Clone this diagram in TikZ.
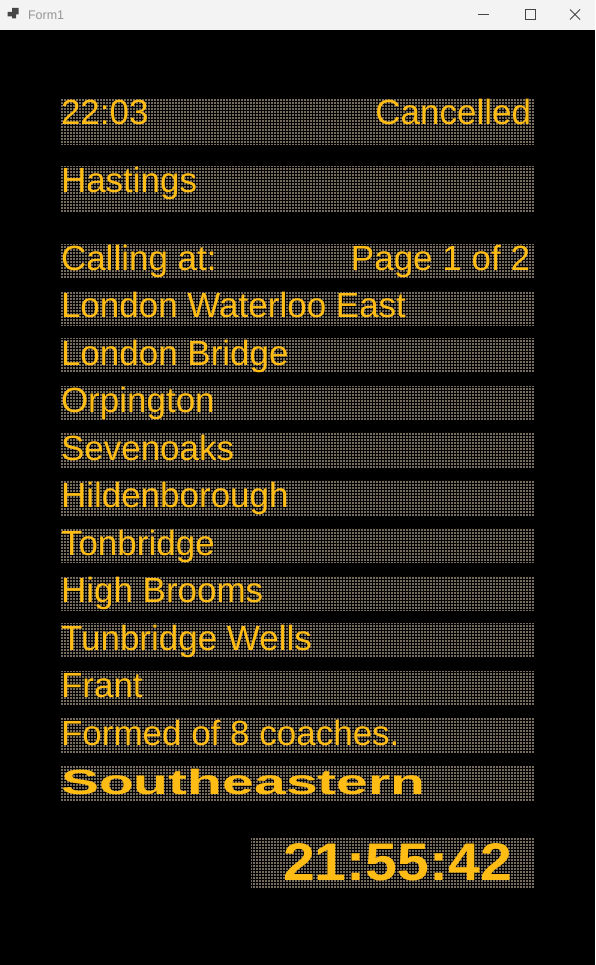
\documentclass[tikz,border=0pt]{standalone}
\usepackage{fontspec}
\setmainfont{Liberation Sans}
\newfontfamily\widefont{Liberation Sans}[FakeStretch=1.63]
\newfontfamily\clockfont{Liberation Sans}[FakeStretch=1.08]
\definecolor{amber}{RGB}{255,188,20}
\definecolor{dotgrey}{RGB}{118,108,94}
\definecolor{barbg}{RGB}{243,243,243}
\definecolor{bartext}{RGB}{150,150,150}
\definecolor{barsym}{RGB}{70,70,70}

\begin{document}
\begin{tikzpicture}[x=1pt,y=-1pt,inner sep=0pt,outer sep=0pt,board/.style={text=amber,font=\fontsize{35}{35}\selectfont}]
\tikzstyle{panel} = [fill=dotgrey, anchor=north west, minimum height=35pt, minimum width=474pt]
\tikzstyle{dotgrid} = [draw=black, line width=1pt, step=3pt]
\tikzstyle{barline} = [draw=barsym, line width=0.8pt]

\useasboundingbox (0,0) rectangle (595,965);
\fill[black] (0,30) rectangle (595,965);
\fill[barbg] (0,0) rectangle (595,30);

% title bar
\fill[barsym] (12,8) rectangle (18.5,14.5) (7.5,12) rectangle (12,16.5) (12,14.5) rectangle (16,18.5);
\node[anchor=west, text=bartext, font=\fontsize{12.5}{12.5}\selectfont] (title) at (28,15) {Form1};
\draw[barline] (478,14.5) -- (489,14.5);
\draw[barline] (525,9.5) rectangle (535,19.5);
\draw[barline] (570,9.5) -- (580,19.5) (570,19.5) -- (580,9.5);

% panels
\node[panel, minimum height=47pt] (dep) at (61,98) {};
\node[panel, minimum height=47pt] (dest) at (61,165) {};
\foreach \i in {0,...,11}
    \node[panel] (row\i) at (61,243+47.5*\i) {};
\node[panel, minimum width=284pt, minimum height=50pt] (clk) at (251,838) {};

\foreach \p in {dep,dest,row0,row1,row2,row3,row4,row5,row6,row7,row8,row9,row10,row11,clk}
    \draw[dotgrid] (\p.north west) grid (\p.south east);

% texts
\node[board, anchor=base west] (deptime) at (61,125) {22:03};
\node[board, anchor=base east] (status) at (531,125) {Cancelled};
\node[board, anchor=base west] (destname) at (61,193) {Hastings};
\node[board, anchor=base west] (calling) at (61,270) {Calling at:};
\node[board, anchor=base east] (page) at (530,270) {Page 1 of 2};

\foreach \s [count=\i] in {London Waterloo East,London Bridge,Orpington,Sevenoaks,Hildenborough,Tonbridge,High Brooms,Tunbridge Wells,Frant}
    \node[board, anchor=base west] (stop\i) at (61,270+47.5*\i) {\s};

\node[board, anchor=base west] (formed) at (61,745) {Formed of 8 coaches.};
\node[board, anchor=base west] (toc) at (61,794) {\widefont\bfseries Southeastern};

\node[board, anchor=base west, font=\fontsize{53}{53}\selectfont] (clock) at (283,880) {\clockfont\bfseries 21:55:42};

\end{tikzpicture}
\end{document}
